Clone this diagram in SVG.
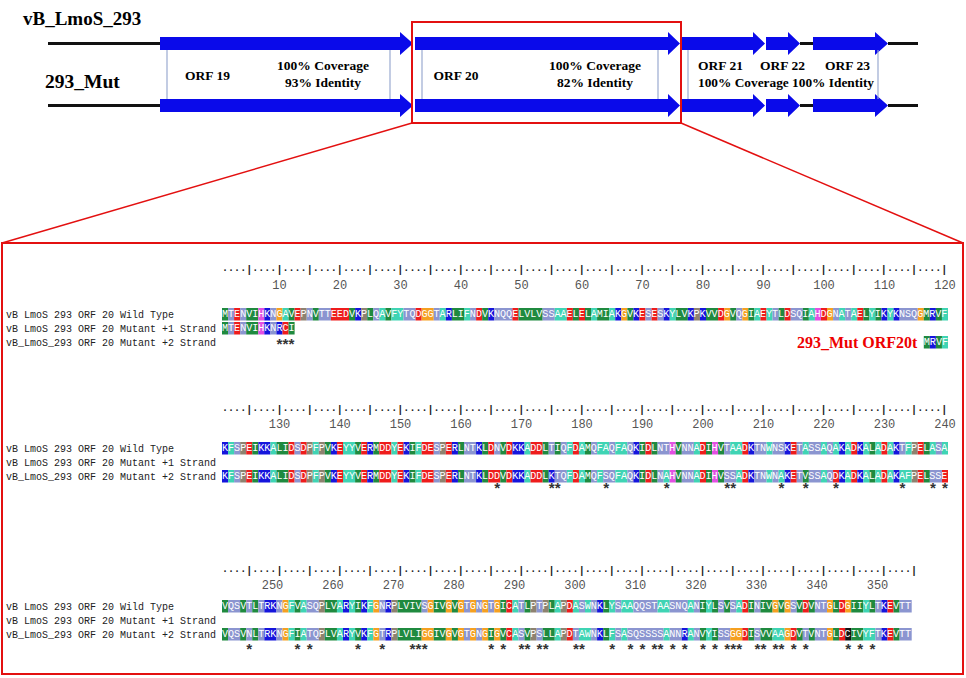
<svg xmlns="http://www.w3.org/2000/svg" width="966" height="678" viewBox="0 0 966 678">
<style>
text{font-family:"Liberation Mono",monospace}
.al rect{height:12.5px;width:1px}
.al .w2{width:2px}.al .w3{width:3px}.al .w4{width:4px}.al .w6{width:6px}
.g{fill:#1f8a3f}.c{fill:#3fd4b4}.s{fill:#8b95d0}.r{fill:#ee1c1c}.b{fill:#1515dc}.o{fill:#f5a020}.p{fill:#8e8270}.h{fill:#e24fe2}.k{fill:#141414}
.sq{font-size:10px;fill:#fff}
.lb{font-size:10px;fill:#222}
.ru{font-size:10px;font-weight:bold;fill:#222}
.nm{font-size:12px;fill:#555;text-anchor:middle}
.st{font-size:15px;font-weight:bold;fill:#333;text-anchor:middle}
.sf{font-family:"Liberation Serif",serif;font-weight:bold;fill:#000}
.orf{font-family:"Liberation Serif",serif;font-weight:bold;font-size:13.5px;fill:#000;text-anchor:middle}
.bar{fill:#0a0aea}
.ln{stroke:#111;stroke-width:3}
.sep{stroke:#9aaad0;stroke-width:1.2}
.red{fill:none;stroke:#e31010;stroke-width:2}
</style>

<text class="sf" x="23" y="25" font-size="19">vB_LmoS_293</text>
<text class="sf" x="45" y="88" font-size="19.5">293_Mut</text>

<g id="backbone">
<line class="ln" x1="48" y1="43.5" x2="160" y2="43.5"/>
<line class="ln" x1="800" y1="43.5" x2="813" y2="43.5"/>
<line class="ln" x1="888" y1="43.5" x2="918" y2="43.5"/>
<line class="ln" x1="48" y1="105.5" x2="160" y2="105.5"/>
<line class="ln" x1="800" y1="105.5" x2="813" y2="105.5"/>
<line class="ln" x1="888" y1="105.5" x2="918" y2="105.5"/>
</g>

<g id="orf19">
<path class="bar" d="M160,37H400V32L413,43.5L400,55V50H160Z"/>
<path class="bar" d="M160,99H400V94L413,105.5L400,117V112H160Z"/>
<line class="sep" x1="167" y1="50" x2="167" y2="99"/>
<line class="sep" x1="390" y1="50" x2="390" y2="99"/>
<text class="orf" x="207.5" y="79.5">ORF 19</text>
<text class="orf" x="323" y="69.5">100% Coverage</text>
<text class="orf" x="323" y="86.5">93% Identity</text>
</g>

<g id="orf20">
<path class="bar" d="M415,37H668V32L680,43.5L668,55V50H415Z"/>
<path class="bar" d="M415,99H668V94L680,105.5L668,117V112H415Z"/>
<line class="sep" x1="422" y1="50" x2="422" y2="99"/>
<line class="sep" x1="658" y1="50" x2="658" y2="99"/>
<text class="orf" x="456" y="79.5">ORF 20</text>
<text class="orf" x="595" y="69.5">100% Coverage</text>
<text class="orf" x="595" y="86.5">82% Identity</text>
</g>

<g id="orf21">
<path class="bar" d="M682,37H753V32L765,43.5L753,55V50H682Z"/>
<path class="bar" d="M682,99H753V94L765,105.5L753,117V112H682Z"/>
<text class="orf" x="720.5" y="69.5">ORF 21</text>
</g>
<g id="orf22">
<path class="bar" d="M766,37H788V32L800,43.5L788,55V50H766Z"/>
<path class="bar" d="M766,99H788V94L800,105.5L788,117V112H766Z"/>
<text class="orf" x="782.5" y="69.5">ORF 22</text>
</g>
<g id="orf23">
<path class="bar" d="M813,37H875V32L888,43.5L875,55V50H813Z"/>
<path class="bar" d="M813,99H875V94L888,105.5L875,117V112H813Z"/>
<text class="orf" x="847.5" y="69.5">ORF 23</text>
</g>
<g id="orf21-23-stats">
<line class="sep" x1="688" y1="50" x2="688" y2="99"/>
<line class="sep" x1="878" y1="50" x2="878" y2="99"/>
<text class="orf" x="786" y="86.5" textLength="176" lengthAdjust="spacingAndGlyphs">100% Coverage 100% Identity</text>
</g>

<g id="zoom-box">
<rect class="red" x="412" y="22" width="269" height="101"/>
</g>

<g id="connectors">
<line x1="412" y1="123" x2="2" y2="243" stroke="#e31010" stroke-width="1.5"/>
<line x1="681" y1="123" x2="963" y2="243" stroke="#e31010" stroke-width="1.5"/>
</g>

<g id="alignment-panel">
<rect class="red" x="2" y="243" width="961" height="431" stroke-width="2.5"/>

<!-- Block 1 -->
<g id="block1">
<text class="ru" transform="translate(222,273) scale(1.00833,1)">····|····|····|····|····|····|····|····|····|····|····|····|····|····|····|····|····|····|····|····|····|····|····|····|</text>
<text class="nm" y="289"><tspan x="279.5">10</tspan><tspan x="340">20</tspan><tspan x="400.5">30</tspan><tspan x="461">40</tspan><tspan x="521.5">50</tspan><tspan x="582">60</tspan><tspan x="642.5">70</tspan><tspan x="703">80</tspan><tspan x="763.5">90</tspan><tspan x="824">100</tspan><tspan x="884.5">110</tspan><tspan x="945">120</tspan></text>
<text class="lb" x="6" y="318">vB LmoS 293 ORF 20 Wild Type</text>
<text class="lb" x="6" y="332">vB LmoS 293 ORF 20 Mutant +1 Strand</text>
<text class="lb" x="6" y="346">vB_LmoS_293 ORF 20 Mutant +2 Strand</text>
<g transform="translate(222,308)">
<g class="al" transform="scale(6.05,1)"><rect class="g" x="0"/><rect class="s" x="1"/><rect class="r" x="2"/><rect class="s" x="3"/><rect class="g w2" x="4"/><rect class="h" x="6"/><rect class="b" x="7"/><rect class="s" x="8"/><rect class="o" x="9"/><rect class="c" x="10"/><rect class="g" x="11"/><rect class="r" x="12"/><rect class="p" x="13"/><rect class="s" x="14"/><rect class="g" x="15"/><rect class="s w2" x="16"/><rect class="r w3" x="18"/><rect class="g" x="21"/><rect class="b" x="22"/><rect class="p" x="23"/><rect class="g" x="24"/><rect class="s" x="25"/><rect class="c" x="26"/><rect class="g" x="27"/><rect class="c w2" x="28"/><rect class="s w2" x="30"/><rect class="r" x="32"/><rect class="o w2" x="33"/><rect class="s" x="35"/><rect class="c" x="36"/><rect class="b" x="37"/><rect class="g w2" x="38"/><rect class="c" x="40"/><rect class="s" x="41"/><rect class="r" x="42"/><rect class="g" x="43"/><rect class="b" x="44"/><rect class="s w3" x="45"/><rect class="r" x="48"/><rect class="g w4" x="49"/><rect class="s w2" x="53"/><rect class="c w2" x="55"/><rect class="r" x="57"/><rect class="g" x="58"/><rect class="r" x="59"/><rect class="g" x="60"/><rect class="c" x="61"/><rect class="g w2" x="62"/><rect class="c" x="64"/><rect class="b" x="65"/><rect class="o" x="66"/><rect class="g" x="67"/><rect class="b" x="68"/><rect class="r" x="69"/><rect class="s" x="70"/><rect class="r" x="71"/><rect class="s" x="72"/><rect class="b" x="73"/><rect class="c" x="74"/><rect class="g w2" x="75"/><rect class="b" x="77"/><rect class="p" x="78"/><rect class="b" x="79"/><rect class="g w2" x="80"/><rect class="r" x="82"/><rect class="o" x="83"/><rect class="g" x="84"/><rect class="s" x="85"/><rect class="o" x="86"/><rect class="g" x="87"/><rect class="c" x="88"/><rect class="r" x="89"/><rect class="c" x="90"/><rect class="s" x="91"/><rect class="g" x="92"/><rect class="r" x="93"/><rect class="s w2" x="94"/><rect class="g" x="96"/><rect class="c" x="97"/><rect class="h" x="98"/><rect class="r" x="99"/><rect class="o" x="100"/><rect class="s" x="101"/><rect class="c" x="102"/><rect class="s" x="103"/><rect class="c" x="104"/><rect class="r" x="105"/><rect class="g" x="106"/><rect class="c" x="107"/><rect class="g" x="108"/><rect class="b" x="109"/><rect class="c" x="110"/><rect class="b" x="111"/><rect class="s w3" x="112"/><rect class="o" x="115"/><rect class="g" x="116"/><rect class="b" x="117"/><rect class="g" x="118"/><rect class="c" x="119"/></g>
<text class="sq" transform="scale(1.00833,1)" y="9.5">MTENVIHKNGAVEPNVTTEEDVKPLQAVFYTQDGGTARLIFNDVKNQQELVLVSSAAELELAMIAKGVKESESKYLVKPKVVDGVQGIAEYTLDSQIAHDGNATAELYIKYKNSQGMRVF</text>
</g>
<g transform="translate(222,322)">
<g class="al" transform="scale(6.05,1)"><rect class="g" x="0"/><rect class="s" x="1"/><rect class="r" x="2"/><rect class="s" x="3"/><rect class="g w2" x="4"/><rect class="h" x="6"/><rect class="b" x="7"/><rect class="s" x="8"/><rect class="b" x="9"/><rect class="r" x="10"/><rect class="g" x="11"/></g>
<text class="sq" transform="scale(1.00833,1)" y="9.5">MTENVIHKNRCI</text>
</g>
<g transform="translate(923.8,336)">
<g class="al" transform="scale(6.05,1)"><rect class="g" x="0"/><rect class="b" x="1"/><rect class="g" x="2"/><rect class="c" x="3"/></g>
<text class="sq" transform="scale(1.00833,1)" y="9.5">MRVF</text>
</g>
<text class="st" y="350" x="279.5 285.5 291.6">***</text>
<text class="sf" x="797" y="348" font-size="16" style="fill:#e00">293_Mut ORF20t</text>
</g>

<!-- Block 2 -->
<g id="block2">
<text class="ru" transform="translate(222,413) scale(1.00833,1)">····|····|····|····|····|····|····|····|····|····|····|····|····|····|····|····|····|····|····|····|····|····|····|····|</text>
<text class="nm" y="428"><tspan x="279.5">130</tspan><tspan x="340">140</tspan><tspan x="400.5">150</tspan><tspan x="461">160</tspan><tspan x="521.5">170</tspan><tspan x="582">180</tspan><tspan x="642.5">190</tspan><tspan x="703">200</tspan><tspan x="763.5">210</tspan><tspan x="824">220</tspan><tspan x="884.5">230</tspan><tspan x="945">240</tspan></text>
<text class="lb" x="6" y="452">vB LmoS 293 ORF 20 Wild Type</text>
<text class="lb" x="6" y="466">vB LmoS 293 ORF 20 Mutant +1 Strand</text>
<text class="lb" x="6" y="480">vB_LmoS_293 ORF 20 Mutant +2 Strand</text>
<g transform="translate(222,442)">
<g class="al" transform="scale(6.05,1)"><rect class="b" x="0"/><rect class="c" x="1"/><rect class="s" x="2"/><rect class="p" x="3"/><rect class="r" x="4"/><rect class="g" x="5"/><rect class="b w2" x="6"/><rect class="c" x="8"/><rect class="g w2" x="9"/><rect class="r" x="11"/><rect class="s" x="12"/><rect class="r" x="13"/><rect class="p" x="14"/><rect class="c" x="15"/><rect class="p" x="16"/><rect class="g" x="17"/><rect class="b" x="18"/><rect class="r" x="19"/><rect class="c w2" x="20"/><rect class="g" x="22"/><rect class="r" x="23"/><rect class="b" x="24"/><rect class="g" x="25"/><rect class="r w2" x="26"/><rect class="c" x="28"/><rect class="r" x="29"/><rect class="b" x="30"/><rect class="g" x="31"/><rect class="c" x="32"/><rect class="r w2" x="33"/><rect class="s" x="35"/><rect class="p" x="36"/><rect class="r" x="37"/><rect class="b" x="38"/><rect class="g" x="39"/><rect class="s w2" x="40"/><rect class="b" x="42"/><rect class="g" x="43"/><rect class="r" x="44"/><rect class="s" x="45"/><rect class="g" x="46"/><rect class="r" x="47"/><rect class="b w2" x="48"/><rect class="c" x="50"/><rect class="r w2" x="51"/><rect class="g" x="53"/><rect class="s" x="54"/><rect class="g" x="55"/><rect class="s" x="56"/><rect class="c" x="57"/><rect class="r" x="58"/><rect class="c" x="59"/><rect class="g" x="60"/><rect class="s" x="61"/><rect class="c w2" x="62"/><rect class="s" x="64"/><rect class="c w2" x="65"/><rect class="s" x="67"/><rect class="b" x="68"/><rect class="g" x="69"/><rect class="r" x="70"/><rect class="g" x="71"/><rect class="s w2" x="72"/><rect class="h" x="74"/><rect class="g" x="75"/><rect class="s w2" x="76"/><rect class="c" x="78"/><rect class="r" x="79"/><rect class="g" x="80"/><rect class="h" x="81"/><rect class="g" x="82"/><rect class="s" x="83"/><rect class="c w2" x="84"/><rect class="r" x="86"/><rect class="b" x="87"/><rect class="s w2" x="88"/><rect class="c" x="90"/><rect class="s w2" x="91"/><rect class="b" x="93"/><rect class="r" x="94"/><rect class="s" x="95"/><rect class="c" x="96"/><rect class="s w2" x="97"/><rect class="c" x="99"/><rect class="s" x="100"/><rect class="c" x="101"/><rect class="b" x="102"/><rect class="c" x="103"/><rect class="r" x="104"/><rect class="b" x="105"/><rect class="c" x="106"/><rect class="g" x="107"/><rect class="c" x="108"/><rect class="r" x="109"/><rect class="c" x="110"/><rect class="b" x="111"/><rect class="s" x="112"/><rect class="c" x="113"/><rect class="p" x="114"/><rect class="r" x="115"/><rect class="g" x="116"/><rect class="c" x="117"/><rect class="s" x="118"/><rect class="c" x="119"/></g>
<text class="sq" transform="scale(1.00833,1)" y="9.5">KFSPEIKKALIDSDPFPVKEYYVERMDDYEKIFDESPERLNTKLDNVDKKADDLTIQFDAMQFAQFAQKIDLNTHVNNADIHVTAADKTNWNSKETASSAQAKADKALADAKTFPELASA</text>
</g>
<g transform="translate(222,470)">
<g class="al" transform="scale(6.05,1)"><rect class="b" x="0"/><rect class="c" x="1"/><rect class="s" x="2"/><rect class="p" x="3"/><rect class="r" x="4"/><rect class="g" x="5"/><rect class="b w2" x="6"/><rect class="c" x="8"/><rect class="g w2" x="9"/><rect class="r" x="11"/><rect class="s" x="12"/><rect class="r" x="13"/><rect class="p" x="14"/><rect class="c" x="15"/><rect class="p" x="16"/><rect class="g" x="17"/><rect class="b" x="18"/><rect class="r" x="19"/><rect class="c w2" x="20"/><rect class="g" x="22"/><rect class="r" x="23"/><rect class="b" x="24"/><rect class="g" x="25"/><rect class="r w2" x="26"/><rect class="c" x="28"/><rect class="r" x="29"/><rect class="b" x="30"/><rect class="g" x="31"/><rect class="c" x="32"/><rect class="r w2" x="33"/><rect class="s" x="35"/><rect class="p" x="36"/><rect class="r" x="37"/><rect class="b" x="38"/><rect class="g" x="39"/><rect class="s w2" x="40"/><rect class="b" x="42"/><rect class="g" x="43"/><rect class="r w2" x="44"/><rect class="g" x="46"/><rect class="r" x="47"/><rect class="b w2" x="48"/><rect class="c" x="50"/><rect class="r w2" x="51"/><rect class="g" x="53"/><rect class="b" x="54"/><rect class="s w2" x="55"/><rect class="c" x="57"/><rect class="r" x="58"/><rect class="c" x="59"/><rect class="g" x="60"/><rect class="s" x="61"/><rect class="c" x="62"/><rect class="s w2" x="63"/><rect class="c w2" x="65"/><rect class="s" x="67"/><rect class="b" x="68"/><rect class="g" x="69"/><rect class="r" x="70"/><rect class="g" x="71"/><rect class="s" x="72"/><rect class="c" x="73"/><rect class="h" x="74"/><rect class="g" x="75"/><rect class="s w2" x="76"/><rect class="c" x="78"/><rect class="r" x="79"/><rect class="g" x="80"/><rect class="h" x="81"/><rect class="g" x="82"/><rect class="s w2" x="83"/><rect class="c" x="85"/><rect class="r" x="86"/><rect class="b" x="87"/><rect class="s w2" x="88"/><rect class="c" x="90"/><rect class="s" x="91"/><rect class="c" x="92"/><rect class="b" x="93"/><rect class="r" x="94"/><rect class="s" x="95"/><rect class="g" x="96"/><rect class="s w2" x="97"/><rect class="c" x="99"/><rect class="s" x="100"/><rect class="r" x="101"/><rect class="b" x="102"/><rect class="c" x="103"/><rect class="r" x="104"/><rect class="b" x="105"/><rect class="c" x="106"/><rect class="g" x="107"/><rect class="c" x="108"/><rect class="r" x="109"/><rect class="c" x="110"/><rect class="b" x="111"/><rect class="c w2" x="112"/><rect class="p" x="114"/><rect class="r" x="115"/><rect class="g" x="116"/><rect class="s w2" x="117"/><rect class="r" x="119"/></g>
<text class="sq" transform="scale(1.00833,1)" y="9.5">KFSPEIKKALIDSDPFPVKEYYVERMDDYEKIFDESPERLNTKLDDVDKKADDLKTQFDAMQFSQFAQKIDLNAHVNNADIHVSSADKTNWNAKETVSSAQDKADKALADAKAFPELSSE</text>
</g>
<text class="st" y="494" x="497.3 551.7 557.8 606.2 666.7 727.2 733.2 781.6 805.8 836.1 902.6 932.9 945">*************</text>
</g>

<!-- Block 3 -->
<g id="block3">
<text class="ru" transform="translate(222,574) scale(1.00833,1)">····|····|····|····|····|····|····|····|····|····|····|····|····|····|····|····|····|····|····|····|····|····|····|</text>
<text class="nm" y="589"><tspan x="272.5">250</tspan><tspan x="333">260</tspan><tspan x="393.5">270</tspan><tspan x="454">280</tspan><tspan x="514.5">290</tspan><tspan x="575">300</tspan><tspan x="635.5">310</tspan><tspan x="696">320</tspan><tspan x="756.5">330</tspan><tspan x="817">340</tspan><tspan x="877.5">350</tspan></text>
<text class="lb" x="6" y="610">vB LmoS 293 ORF 20 Wild Type</text>
<text class="lb" x="6" y="624">vB LmoS 293 ORF 20 Mutant +1 Strand</text>
<text class="lb" x="6" y="638">vB_LmoS_293 ORF 20 Mutant +2 Strand</text>
<g transform="translate(222,600)">
<g class="al" transform="scale(6.05,1)"><rect class="g" x="0"/><rect class="s w2" x="1"/><rect class="g" x="3"/><rect class="s" x="4"/><rect class="g" x="5"/><rect class="s" x="6"/><rect class="b w2" x="7"/><rect class="s" x="9"/><rect class="o" x="10"/><rect class="c" x="11"/><rect class="g" x="12"/><rect class="c" x="13"/><rect class="s w2" x="14"/><rect class="p" x="16"/><rect class="g w2" x="17"/><rect class="c" x="19"/><rect class="b" x="20"/><rect class="c" x="21"/><rect class="g" x="22"/><rect class="b" x="23"/><rect class="c" x="24"/><rect class="o" x="25"/><rect class="s" x="26"/><rect class="b" x="27"/><rect class="p" x="28"/><rect class="g w4" x="29"/><rect class="s" x="33"/><rect class="o" x="34"/><rect class="g w2" x="35"/><rect class="o" x="37"/><rect class="g" x="38"/><rect class="o" x="39"/><rect class="s" x="40"/><rect class="o" x="41"/><rect class="s" x="42"/><rect class="o" x="43"/><rect class="s" x="44"/><rect class="o" x="45"/><rect class="g" x="46"/><rect class="r" x="47"/><rect class="c" x="48"/><rect class="s" x="49"/><rect class="g" x="50"/><rect class="p" x="51"/><rect class="s" x="52"/><rect class="p" x="53"/><rect class="g" x="54"/><rect class="c" x="55"/><rect class="p" x="56"/><rect class="r" x="57"/><rect class="c" x="58"/><rect class="s" x="59"/><rect class="c" x="60"/><rect class="s" x="61"/><rect class="b" x="62"/><rect class="g" x="63"/><rect class="c" x="64"/><rect class="s" x="65"/><rect class="c w2" x="66"/><rect class="s w4" x="68"/><rect class="c w2" x="72"/><rect class="s w3" x="74"/><rect class="c" x="77"/><rect class="s" x="78"/><rect class="g" x="79"/><rect class="c" x="80"/><rect class="g" x="81"/><rect class="s" x="82"/><rect class="g" x="83"/><rect class="s" x="84"/><rect class="c" x="85"/><rect class="r" x="86"/><rect class="g" x="87"/><rect class="s" x="88"/><rect class="g w2" x="89"/><rect class="o" x="91"/><rect class="g" x="92"/><rect class="o" x="93"/><rect class="s" x="94"/><rect class="g" x="95"/><rect class="r" x="96"/><rect class="g" x="97"/><rect class="s w2" x="98"/><rect class="o" x="100"/><rect class="g" x="101"/><rect class="r" x="102"/><rect class="o" x="103"/><rect class="g w2" x="104"/><rect class="c" x="106"/><rect class="g" x="107"/><rect class="s" x="108"/><rect class="b" x="109"/><rect class="r" x="110"/><rect class="g" x="111"/><rect class="s w2" x="112"/></g>
<text class="sq" transform="scale(1.00833,1)" y="9.5">VQSVTLTRKNGFVASQPLVARYIKFGNRPLVIVSGIVGVGTGNGTGICATLPTPLAPDASWNKLYSAAQQSTAASNQANIYLSVSADINIVGVGSVDVNTGLDGIIYLTKEVTT</text>
</g>
<g transform="translate(222,628)">
<g class="al" transform="scale(6.05,1)"><rect class="g" x="0"/><rect class="s w2" x="1"/><rect class="g" x="3"/><rect class="s" x="4"/><rect class="g" x="5"/><rect class="s" x="6"/><rect class="b w2" x="7"/><rect class="s" x="9"/><rect class="o" x="10"/><rect class="c" x="11"/><rect class="g" x="12"/><rect class="c" x="13"/><rect class="s w2" x="14"/><rect class="p" x="16"/><rect class="g w2" x="17"/><rect class="c" x="19"/><rect class="b" x="20"/><rect class="c" x="21"/><rect class="g" x="22"/><rect class="b" x="23"/><rect class="c" x="24"/><rect class="o" x="25"/><rect class="s" x="26"/><rect class="b" x="27"/><rect class="p" x="28"/><rect class="g w4" x="29"/><rect class="o w2" x="33"/><rect class="g w2" x="35"/><rect class="o" x="37"/><rect class="g" x="38"/><rect class="o" x="39"/><rect class="s" x="40"/><rect class="o" x="41"/><rect class="s" x="42"/><rect class="o" x="43"/><rect class="g" x="44"/><rect class="o" x="45"/><rect class="g" x="46"/><rect class="r" x="47"/><rect class="c" x="48"/><rect class="s" x="49"/><rect class="g" x="50"/><rect class="p" x="51"/><rect class="s" x="52"/><rect class="g w2" x="53"/><rect class="c" x="55"/><rect class="p" x="56"/><rect class="r" x="57"/><rect class="s" x="58"/><rect class="c w2" x="59"/><rect class="s" x="61"/><rect class="b" x="62"/><rect class="g" x="63"/><rect class="c" x="64"/><rect class="s" x="65"/><rect class="c" x="66"/><rect class="s w6" x="67"/><rect class="c" x="73"/><rect class="s w2" x="74"/><rect class="b" x="76"/><rect class="c" x="77"/><rect class="s" x="78"/><rect class="g" x="79"/><rect class="c" x="80"/><rect class="g" x="81"/><rect class="s w2" x="82"/><rect class="o w2" x="84"/><rect class="r" x="86"/><rect class="g" x="87"/><rect class="s" x="88"/><rect class="g w2" x="89"/><rect class="c w2" x="91"/><rect class="o" x="93"/><rect class="r" x="94"/><rect class="g" x="95"/><rect class="s" x="96"/><rect class="g" x="97"/><rect class="s w2" x="98"/><rect class="o" x="100"/><rect class="g" x="101"/><rect class="r" x="102"/><rect class="k" x="103"/><rect class="g w2" x="104"/><rect class="c w2" x="106"/><rect class="s" x="108"/><rect class="b" x="109"/><rect class="r" x="110"/><rect class="g" x="111"/><rect class="s w2" x="112"/></g>
<text class="sq" transform="scale(1.00833,1)" y="9.5">VQSVNLTRKNGFIATQPLVARYVKFGTRPLVLIGGIVGVGTGNGIGVCASVPSLLAPDTAWNKLFSASQSSSSANNRANVYISSGGDISVVAAGDVTVNTGLDCIVYFTKEVTT</text>
</g>
<text class="st" y="655" x="249.2 297.6 309.7 358.1 382.3 412.6 418.6 424.7 491.2 503.3 521.5 527.5 539.6 545.7 575.9 582 612.2 630.4 642.5 654.6 660.6 672.7 684.8 703 715.1 727.2 733.2 739.3 757.4 763.5 775.6 781.6 793.7 805.8 848.2 860.3 872.4">*************************************</text>
</g>
</g>
</svg>
